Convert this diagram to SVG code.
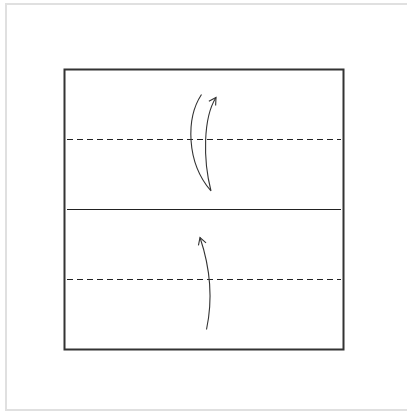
<svg xmlns="http://www.w3.org/2000/svg" width="407" height="412" viewBox="0 0 407 412">
<defs>
<style>
.frame{fill:#fff;stroke:#e0e0e0;stroke-width:2}
.paper{fill:#fff;stroke:#333;stroke-width:2}
.dash{fill:none;stroke:#222;stroke-width:1;stroke-dasharray:6 4}
.line{fill:none;stroke:#222;stroke-width:1}
.arr{fill:none;stroke:#333;stroke-width:1.1}
</style>
<marker id="ah" viewBox="-8 -5 10 10" refX="0" refY="0" markerWidth="10" markerHeight="10" markerUnits="userSpaceOnUse" orient="auto">
<path d="M-7,-4 L0,0 L-7,4" fill="none" stroke="#333" stroke-width="1.1"/>
</marker>
</defs>
<rect class="frame" x="6" y="4" width="410" height="406"/>
<g id="paper">
<rect class="paper" x="64.5" y="69.5" width="279" height="280"/>
</g>
<g id="folds">
<line class="dash" x1="67" y1="139.5" x2="341" y2="139.5"/>
<line class="line" x1="67" y1="209.5" x2="341" y2="209.5"/>
<line class="dash" x1="67" y1="279.5" x2="341" y2="279.5"/>
</g>
<g id="connectors">
<path class="arr" d="M201.5,94.5 C186,118 186,162 211,191 C203,160 203,118 216,97.5" marker-end="url(#ah)"/>
<path class="arr" d="M206.5,329.5 Q216,285 200,237.5" marker-end="url(#ah)"/>
</g>
</svg>
